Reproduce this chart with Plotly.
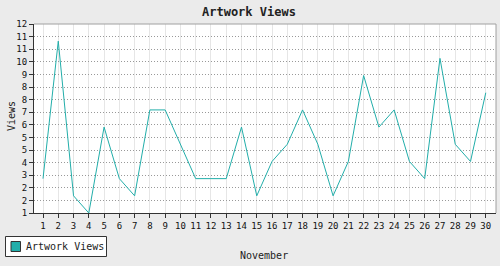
import numpy as np
import plotly.graph_objects as go

days = list(range(1, 31))
views = [3, 11, 2, 1, 6, 3, 2, 7, 7, 5, 3, 3, 3, 6, 2, 4, 5, 7, 5, 2, 4, 9, 6, 7, 4, 3, 10, 5, 4, 8]
x_labels = [str(d) for d in days]
y_tick_labels = ["1", "2", "2", "3", "4", "5", "5", "6", "7", "8", "8", "9", "10", "11", "11", "12"]
series_name = "Artwork Views"
title_text = "Artwork Views"
x_title = "November"
y_title = "Views"

W, H = 500, 266
L, R, T, B = 34, 4, 24, 53
PW, PH = W - L - R, H - T - B

def px(x):
    return (x - L) / PW

def py(y):
    return 1 - (y - T) / PH

LINE = "#22AEAA"
FONT = "DejaVu Sans Mono"

fig = go.Figure()
fig.add_trace(go.Scatter(x=days, y=views, mode="lines", line=dict(color=LINE, width=1),
                         name=series_name, showlegend=False, hoverinfo="skip"))

yvals = list(np.linspace(1, 12, len(y_tick_labels)))

fig.update_layout(
    width=W, height=H,
    margin=dict(l=L, r=R, t=T, b=B, pad=0),
    paper_bgcolor="#EBEBEB",
    plot_bgcolor="#FFFFFF",
    font=dict(family=FONT, size=10, color="#222222"),
    xaxis=dict(range=[0.41, 30.67], tickvals=days, ticktext=x_labels,
               showgrid=True, gridcolor="#E6E6E6", gridwidth=1,
               showline=True, linecolor="#333333", linewidth=1,
               ticks="outside", ticklen=4, tickcolor="#333333",
               zeroline=False, fixedrange=True, tickfont=dict(size=9, color="#111111")),
    yaxis=dict(range=[1, 12], tickvals=yvals, ticktext=y_tick_labels,
               showgrid=True, gridcolor="#999999", gridwidth=1, griddash="1px,2px",
               showline=True, linecolor="#333333", linewidth=1,
               ticks="outside", ticklen=4, tickcolor="#333333",
               zeroline=False, fixedrange=True, tickfont=dict(size=9, color="#111111")),
    showlegend=False,
)

shapes = [
    dict(type="line", xref="paper", yref="paper", x0=0, x1=1, y0=1, y1=1,
         line=dict(color="#A0A0A0", width=1), layer="above"),
    dict(type="line", xref="paper", yref="paper", x0=1, x1=1, y0=0, y1=1,
         line=dict(color="#A0A0A0", width=1), layer="above"),
    dict(type="rect", xref="paper", yref="paper", x0=px(5.5), x1=px(106.5), y0=py(236.5), y1=py(256.5),
         line=dict(color="#333333", width=1), fillcolor="#FFFFFF", layer="above"),
    dict(type="rect", xref="paper", yref="paper", x0=px(11), x1=px(20.5), y0=py(241.5), y1=py(251.5),
         line=dict(color="#333333", width=1), fillcolor=LINE, layer="above"),
]
fig.update_layout(shapes=shapes)

annotations = [
    dict(text="<b>" + title_text + "</b>", xref="paper", yref="paper", x=px(249), y=py(12),
         showarrow=False, xanchor="center", yanchor="middle", font=dict(family=FONT, size=12, color="#222222")),
    dict(text=y_title, xref="paper", yref="paper", x=px(11), y=py(116), textangle=-90,
         showarrow=False, xanchor="center", yanchor="middle", font=dict(family=FONT, size=10, color="#222222")),
    dict(text=x_title, xref="paper", yref="paper", x=px(264), y=py(255),
         showarrow=False, xanchor="center", yanchor="middle", font=dict(family=FONT, size=10, color="#222222")),
    dict(text=series_name, xref="paper", yref="paper", x=px(24), y=py(246.5),
         showarrow=False, xanchor="left", yanchor="middle", font=dict(family=FONT, size=10, color="#222222")),
]
fig.update_layout(annotations=annotations)

fig.write_html("out.html")
